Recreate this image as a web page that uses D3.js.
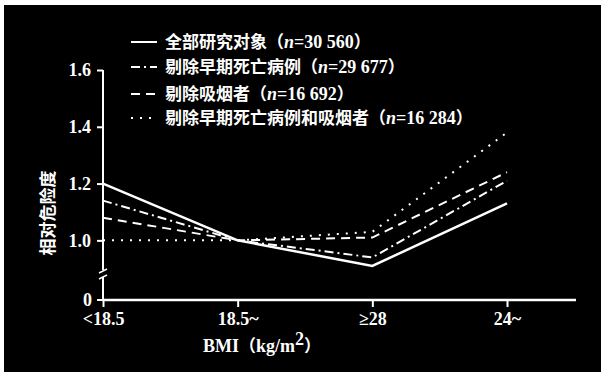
<head>
<script src="https://cdnjs.cloudflare.com/ajax/libs/d3/7.8.5/d3.min.js"></script>
<style>
  body { margin: 0; background: #fff; }
  svg text { fill: #fff; }
  .num { font-family: "Liberation Serif", "DejaVu Serif", serif; font-size: 18px; font-weight: bold; }
  .cjk { font-family: "Noto Sans CJK SC", sans-serif; font-size: 17px; font-weight: bold; }
</style>
</head>
<body>
<div id="chart"></div>
<script>
const categories = ['<18.5', '18.5~', '≥28', '24~'];
const yTicks = [1.0, 1.2, 1.4, 1.6];
const seriesNames = ['全部研究对象', '剔除早期死亡病例', '剔除吸烟者', '剔除早期死亡病例和吸烟者'];
const seriesN = ['30 560', '29 677', '16 692', '16 284'];
const allSubjects = [1.20, 1.00, 0.91, 1.13];
const noEarlyDeaths = [1.14, 1.00, 0.94, 1.21];
const noSmokers = [1.08, 1.00, 1.01, 1.24];
const noBoth = [1.00, 1.00, 1.03, 1.38];
const dashes = [null, '9,4,2,4', '9,6', '2,7'];

const width = 606, height = 380;
const svg = d3.select('#chart').append('svg').attr('width', width).attr('height', height);

svg.append('rect').attr('x', 4).attr('y', 5).attr('width', 597).attr('height', 367).attr('fill', '#000');

const x = d3.scalePoint().domain(categories).range([103, 507]);
const y = d3.scaleLinear().domain([0.79, 1.6]).range([300, 70]);

// y axis
const yAxis = svg.append('g').attr('transform', 'translate(103,0)')
  .call(d3.axisLeft(y).tickValues(yTicks).tickFormat(d3.format('.1f')).tickSize(6).tickSizeOuter(0));
yAxis.select('.domain').remove();
yAxis.selectAll('line').attr('stroke', '#fff').attr('stroke-width', 2);
yAxis.selectAll('text').attr('class', 'num').attr('dx', -3);
svg.append('line').attr('x1', 103).attr('x2', 103).attr('y1', y(1.6)).attr('y2', 301)
  .attr('stroke', '#fff').attr('stroke-width', 2);
svg.append('line').attr('x1', 103).attr('x2', 97).attr('y1', 300).attr('y2', 300)
  .attr('stroke', '#fff').attr('stroke-width', 2);
svg.append('text').attr('class', 'num').attr('x', 92).attr('y', 300).attr('dy', '0.32em')
  .attr('text-anchor', 'end').text('0');

// axis break
svg.append('rect').attr('x', 100).attr('y', 270).attr('width', 6).attr('height', 7).attr('fill', '#000');
[270, 276].forEach(v => svg.append('line').attr('x1', 99).attr('x2', 107).attr('y1', v + 3).attr('y2', v - 1)
  .attr('stroke', '#fff').attr('stroke-width', 1.5));

// x axis
const xAxis = svg.append('g').attr('transform', 'translate(0,300)')
  .call(d3.axisBottom(x).tickSize(7).tickSizeOuter(0).tickPadding(5));
xAxis.select('.domain').remove();
xAxis.selectAll('line').attr('stroke', '#fff').attr('stroke-width', 2);
xAxis.selectAll('text').attr('class', 'num');
svg.append('line').attr('x1', 103).attr('x2', 576).attr('y1', 300).attr('y2', 300)
  .attr('stroke', '#fff').attr('stroke-width', 2.5);

// series lines
const line = d3.line().x((d, i) => x(categories[i])).y(d => y(d));
[allSubjects, noEarlyDeaths, noSmokers, noBoth].forEach((s, i) => {
  svg.append('path').datum(s).attr('d', line).attr('fill', 'none').attr('stroke', '#fff')
    .attr('stroke-width', i === 0 ? 2.5 : 2).attr('stroke-dasharray', dashes[i]);
});

// legend
const legendY = [42, 67, 94, 118];
seriesNames.forEach((name, i) => {
  svg.append('line').attr('x1', 131).attr('x2', 157).attr('y1', legendY[i]).attr('y2', legendY[i])
    .attr('stroke', '#fff').attr('stroke-width', 2).attr('stroke-dasharray', dashes[i]);
  const t = svg.append('text').attr('x', 165).attr('y', legendY[i]).attr('dy', '0.36em');
  t.append('tspan').attr('class', 'cjk').text(name + '（');
  t.append('tspan').attr('class', 'num').attr('font-style', 'italic').attr('font-size', 16).text('n');
  t.append('tspan').attr('class', 'num').attr('font-size', 17).text('=' + seriesN[i]);
  t.append('tspan').attr('class', 'cjk').text('）');
});

// axis titles
svg.append('text').attr('class', 'cjk').attr('transform', 'translate(48,213) rotate(-90)')
  .attr('text-anchor', 'middle').attr('dy', '0.35em').text('相对危险度');
const xt = svg.append('text').attr('x', 262).attr('y', 352).attr('text-anchor', 'middle');
xt.append('tspan').attr('class', 'num').text('BMI');
xt.append('tspan').attr('class', 'cjk').text('（');
xt.append('tspan').attr('class', 'num').text('kg/m');
xt.append('tspan').attr('class', 'num').attr('font-size', 11).attr('dy', -7).text('2');
xt.append('tspan').attr('class', 'cjk').attr('dy', 7).text('）');
</script>
</body>
